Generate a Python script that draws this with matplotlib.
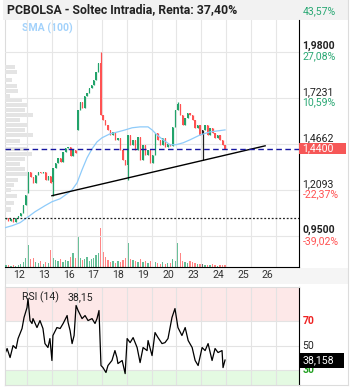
import matplotlib.pyplot as plt
from matplotlib.patches import Rectangle

plt.rcParams['font.family'] = ['Roboto', 'DejaVu Sans']

# sesiones del eje x
days = ['12', '13', '16', '17', '18', '19', '20', '23', '24', '25', '26']

# velas intradia: apertura de cada sesion y cierres de cada vela
day_open = [1.045, 1.190, 1.250, 1.544, 1.628, 1.349, 1.360, 1.656, 1.516]
closes = [
    [1.045, 1.053, 1.036, 1.047, 1.031, 1.053, 1.064, 1.081, 1.126, 1.181],
    [1.310, 1.282, 1.248, 1.293, 1.310, 1.304, 1.310, 1.265, 1.287, 1.248],
    [1.332, 1.360, 1.388, 1.366, 1.422, 1.444, 1.450, 1.400, 1.433, 1.416],
    [1.656, 1.701, 1.667, 1.734, 1.751, 1.779, 1.796, 1.824, 1.868, 1.919, 1.628],
    [1.600, 1.572, 1.544, 1.516, 1.533, 1.489, 1.500, 1.433, 1.377, 1.349],
    [1.516, 1.461, 1.489, 1.433, 1.505, 1.377, 1.461, 1.405, 1.433, 1.360],
    [1.405, 1.528, 1.489, 1.461, 1.500, 1.450, 1.466, 1.455, 1.561, 1.656],
    [1.690, 1.628, 1.572, 1.611, 1.639, 1.628, 1.600, 1.556, 1.572, 1.516],
    [1.544, 1.572, 1.516, 1.556, 1.528, 1.500, 1.516, 1.489, 1.461, 1.440],
]
volumes = [
    [1, 2, 2, 1, 2, 1, 2, 3, 5, 9],
    [22, 8, 9, 5, 4, 6, 3, 5, 4, 17],
    [9, 7, 6, 8, 5, 7, 6, 10, 14, 9],
    [30, 9, 7, 8, 10, 6, 8, 9, 12, 14, 39],
    [15, 10, 7, 5, 6, 4, 6, 5, 7, 9],
    [24, 8, 7, 6, 5, 8, 5, 6, 4, 6],
    [12, 5, 4, 3, 5, 3, 4, 4, 8, 6],
    [24, 14, 6, 5, 4, 6, 5, 4, 3, 3],
    [3, 2, 2, 2, 3, 2, 1, 2, 2, 2],
]
# mechas largas (sesion, vela)
wick_low = {(2, 0): 1.176, (5, 0): 1.265, (8, 0): 1.377}
wick_high = {(3, 10): 1.980, (7, 0): 1.701}
black_candles = [(8, 0)]

# media movil 100
sma_t = [-0.88, -0.60, -0.28, 0.00, 0.32, 0.72, 1.00, 1.33, 1.61, 1.81, 2.01, 2.21,
         2.41, 2.61, 2.81, 3.01, 3.33, 3.65, 3.94, 4.22, 4.54, 4.86, 5.02, 5.22,
         5.46, 5.74, 5.98, 6.27, 6.55, 6.95, 7.35, 7.95]
sma_v = [0.997, 1.008, 1.025, 1.053, 1.086, 1.120, 1.142, 1.159, 1.187, 1.209, 1.248,
         1.321, 1.388, 1.438, 1.477, 1.500, 1.522, 1.533, 1.544, 1.556, 1.561, 1.561,
         1.544, 1.516, 1.489, 1.461, 1.461, 1.472, 1.489, 1.516, 1.533, 1.544]

# perfil de volumen por precio
prof_p = [1.896, 1.868, 1.824, 1.790, 1.762, 1.734, 1.712, 1.684, 1.656, 1.628, 1.600,
          1.572, 1.544, 1.516, 1.483, 1.438, 1.410, 1.382, 1.354, 1.327, 1.299, 1.265,
          1.237, 1.209, 1.176, 1.137, 1.098]
prof_v = [10, 12, 7, 12, 13, 5, 17, 22, 20, 28, 15, 22, 20, 28, 15, 23, 27, 20, 15, 20,
          22, 13, 9, 6, 12, 9, 6]

# RSI(14)
rsi_t = [-0.88, -0.80, -0.68, -0.56, -0.44, -0.36, -0.20, -0.12, 0.00, 0.04, 0.12, 0.20,
         0.24, 0.40, 0.52, 0.64, 0.72, 0.84, 0.92, 1.00, 1.04, 1.20, 1.33, 1.45, 1.61,
         1.65, 1.73, 1.81, 1.89, 1.97, 2.05, 2.21, 2.33, 2.45, 2.61, 2.73, 2.81, 2.89,
         2.97, 3.05, 3.17, 3.25, 3.41, 3.53, 3.61, 3.65, 3.82, 3.94, 4.02, 4.14, 4.26,
         4.42, 4.54, 4.66, 4.82, 4.86, 5.02, 5.14, 5.26, 5.42, 5.54, 5.66, 5.82, 5.94,
         6.06, 6.22, 6.35, 6.47, 6.63, 6.75, 6.87, 7.03, 7.15, 7.27, 7.43, 7.55, 7.67,
         7.83, 7.87, 7.95]
rsi_v = [43.5, 47.6, 40.2, 50.0, 47.6, 55.7, 63.9, 72.9, 81.0, 88.4, 70.4, 68.0, 72.0,
         64.7, 70.4, 63.9, 51.6, 48.4, 55.7, 37.8, 58.2, 64.7, 63.9, 68.0, 74.5, 68.8,
         62.2, 51.6, 58.2, 82.7, 78.6, 72.0, 74.5, 70.4, 72.0, 68.0, 72.0, 78.6, 33.7,
         32.0, 28.0, 33.7, 37.8, 45.9, 40.2, 35.3, 37.8, 27.1, 55.7, 52.4, 56.5, 48.4,
         36.1, 48.4, 45.9, 54.1, 41.8, 60.6, 56.5, 51.6, 52.4, 55.7, 72.9, 80.2, 64.7,
         58.2, 64.7, 54.1, 48.4, 37.8, 33.7, 48.4, 45.9, 51.6, 37.8, 47.6, 44.3, 45.9,
         32.0, 38.158]

trend_t = [1.0, 9.56]
trend_p = [1.176, 1.455]
last_price = 1.44
support = 1.05
levels = [1.98, 1.7231, 1.4662, 1.2093, 0.95]
level_pct = [27.08, 10.59, None, -22.37, -39.02]
top_level = 2.2368
top_pct = 43.57

GREEN = '#22a36a'
RED = '#ff5252'

W, H = 353, 390
fig = plt.figure(figsize=(W / 100, H / 100), dpi=100)


def box(l, t, r, b):
    return [l / W, 1 - b / H, (r - l) / W, (b - t) / H]


def es(v, nd):
    return f'{v:.{nd}f}'.replace('.', ',')


bg = fig.add_axes([0, 0, 1, 1], zorder=0)
bg.set_xlim(0, W)
bg.set_ylim(H, 0)
bg.axis('off')
bg.add_patch(Rectangle((3, 0), 345, 19.5, color='#f2f2f2', lw=0))
bg.add_patch(Rectangle((5, 268), 343, 16, color='#f5f5f5', lw=0))
bg.plot([5, 5], [19.5, 385], color='#dcdcdc', lw=0.8)
bg.plot([348, 348], [0, 385], color='#dcdcdc', lw=0.8)
bg.plot([5, 348], [385, 385], color='#dcdcdc', lw=0.8)
bg.text(7, 10, 'PCBOLSA - Soltec Intradia, Renta: 37,40%', fontsize=8.8,
        fontweight='bold', color='#222222', va='center')
bg.text(22, 28.5, 'SMA (100)', fontsize=7.6, fontweight='bold', color='#a3d2fb',
        va='center')

XL = (-0.884, 10.92)

# panel principal
ax = fig.add_axes(box(5, 20, 299, 267), zorder=2)
ax.set_facecolor('none')
ax_v = ax.twinx()
ax_v.set_zorder(1)
ax.set_zorder(2)
ax.set_xlim(*XL)
ax.set_ylim(0.777, 2.159)
ax_v.set_ylim(0, 247)
ax_v.axis('off')
ax.set_xticks(range(11))
ax.set_yticks(levels)
ax.grid(color='#e6e6e6', lw=0.8)
ax.tick_params(length=0, labelbottom=False, labelleft=False)
for s in ['top', 'left']:
    ax.spines[s].set_visible(False)
ax.spines['right'].set_color('black')
ax.spines['bottom'].set_color('black')

xs, bots, hts, cols, lows, highs, vols = [], [], [], [], [], [], []
for d, day_closes in enumerate(closes):
    n = len(day_closes)
    o = day_open[d]
    for i, c in enumerate(day_closes):
        xs.append(d - 1 + (i + 0.5) / n)
        bots.append(min(o, c))
        hts.append(max(abs(c - o), 0.004))
        if (d, i) in black_candles:
            cols.append('#222222')
        else:
            cols.append(GREEN if c >= o else RED)
        lows.append(wick_low.get((d, i), min(o, c)))
        highs.append(wick_high.get((d, i), max(o, c)))
        vols.append(volumes[d][i])
        o = c

ax.barh(prof_p, [v / 24.9 for v in prof_v], height=0.024, left=XL[0],
        color='#e4e4e4', zorder=1)
ax_v.bar(xs, vols, width=0.055, color=cols, alpha=0.7)
ax.vlines(xs, lows, highs, colors=cols, lw=0.9, zorder=3)
ax.bar(xs, hts, width=0.055, bottom=bots, color=cols, zorder=3)
ax.plot(sma_t, sma_v, color='#8ecbfa', lw=0.9, zorder=4)
ax.plot(trend_t, trend_p, color='black', lw=1.0, zorder=4)
ax.axhline(last_price, color='#1616a0', lw=1.0, ls=(0, (4, 2.5)), zorder=4)
ax.axhline(support, color='#222222', lw=0.9, ls=(0, (1.5, 1.5)), zorder=4)

ytr = ax.get_yaxis_transform()
for lv, pct in zip(levels, level_pct):
    bold = lv in (1.98, 0.95)
    ax.text(1.012, lv + 0.004, es(lv, 4), transform=ytr,
            fontsize=7.6, color='#222222', va='bottom', clip_on=False,
            fontweight='bold' if bold else 'normal')
    if pct is not None:
        ax.text(1.012, lv + 0.002, es(pct, 2) + '%', transform=ytr,
                fontsize=7.6, color='#2aa874' if pct > 0 else '#ff5252',
                va='top', clip_on=False)
ax.text(1.012, top_level, es(top_pct, 2) + '%', transform=ytr, fontsize=7.6,
        color='#2aa874', va='top', clip_on=False)
ax.add_patch(Rectangle((1.0, last_price - 0.031), 0.16, 0.062, transform=ytr,
                       color='#f65757', lw=0, clip_on=False, zorder=5))
ax.text(1.012, last_price, es(last_price, 4), transform=ytr,
        fontsize=7.6, color='white', va='center', clip_on=False, zorder=6)

xtr = ax.get_xaxis_transform()
for i, lab in enumerate(days):
    ax.text(i - 0.33, -0.034, lab, transform=xtr, ha='center', va='center',
            fontsize=7.6, color='#333333', clip_on=False)

# panel RSI
rs = fig.add_axes(box(5, 287, 299, 385), zorder=2)
rs.set_xlim(*XL)
rs.set_ylim(17.8, 97.8)
rs.axhspan(70, 97.8, color='#fde8e8', lw=0, zorder=0)
rs.axhspan(17.8, 30, color='#e4fae2', lw=0, zorder=0)
rs.set_xticks(range(11))
rs.set_yticks([30, 50, 70])
rs.grid(color='#e3e3e3', lw=0.8)
rs.set_axisbelow(True)
rs.tick_params(length=0, labelbottom=False, labelleft=False)
for s in ['top', 'left', 'bottom']:
    rs.spines[s].set_color('#dcdcdc')
rs.spines['right'].set_color('black')
rs.plot(rsi_t, rsi_v, color='black', lw=0.9)

rtr = rs.get_yaxis_transform()
rs.text(1.012, 70, '70', transform=rtr, fontsize=7.6, color='#ee2222',
        fontweight='bold', va='center', clip_on=False)
rs.text(1.012, 50, '50', transform=rtr, fontsize=7.6, color='#222222',
        va='center', clip_on=False)
rs.text(1.012, 30, '30', transform=rtr, fontsize=7.6, color='#22a022',
        fontweight='bold', va='center', clip_on=False)
last_rsi = rsi_v[-1]
rs.add_patch(Rectangle((1.0, last_rsi - 6.1), 0.153, 12.2, transform=rtr,
                       color='black', lw=0, clip_on=False, zorder=5))
rs.text(1.012, last_rsi, es(last_rsi, 3), transform=rtr, fontsize=7.6,
        color='white', va='center', clip_on=False, zorder=6)
rs.text(0.057, 0.9, 'RSI (14)', transform=rs.transAxes, fontsize=7.6,
        color='#222222', va='center')
rs.text(0.214, 0.9, es(int(last_rsi * 100) / 100, 2), transform=rs.transAxes,
        fontsize=7.6, color='#222222', va='center')

fig.savefig('out.png', dpi=100)
